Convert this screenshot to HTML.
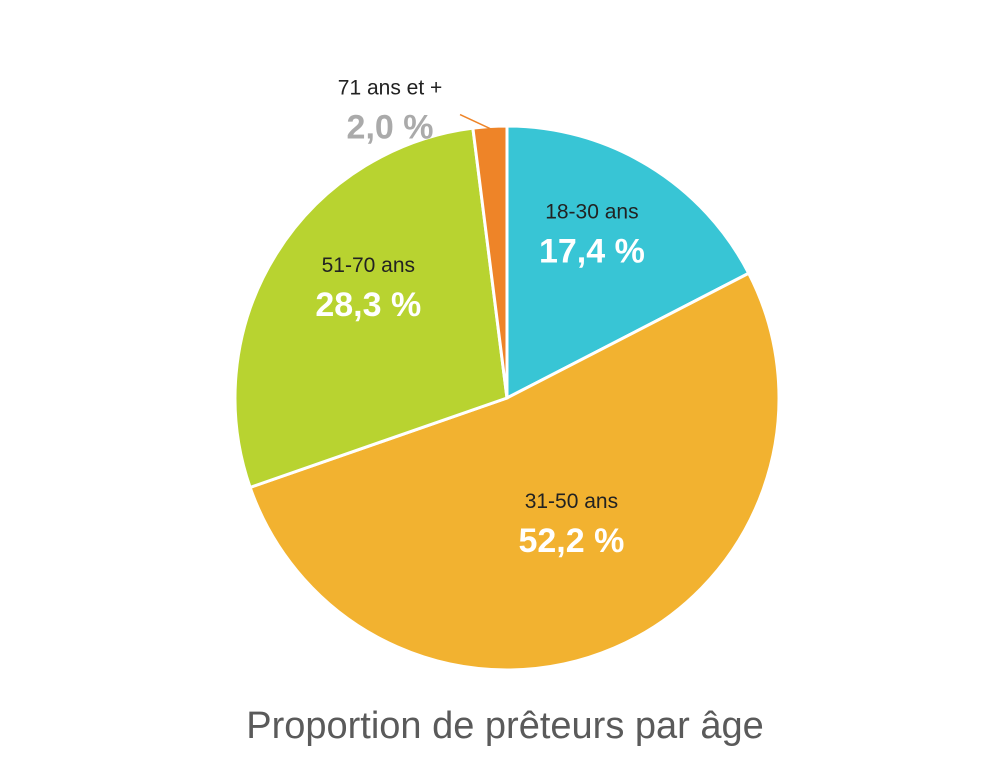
<!DOCTYPE html>
<html>
<head>
<meta charset="utf-8">
<style>
  html,body{margin:0;padding:0;background:#fff;}
  body{width:1008px;height:774px;overflow:hidden;font-family:"Liberation Sans",sans-serif;}
</style>
</head>
<body>
<svg id="chart" width="1008" height="774" viewBox="0 0 1008 774" xmlns="http://www.w3.org/2000/svg">
  <g id="slices"></g>
  <g id="labels"></g>
  <text x="505" y="738" text-anchor="middle" font-size="38" fill="#5a5a5a" font-family="Liberation Sans, sans-serif">Proportion de prêteurs par âge</text>
</svg>
<script>
const categories = ["18-30 ans", "31-50 ans", "51-70 ans", "71 ans et +"];
const values = [17.4, 52.2, 28.3, 2.0];
const valueLabels = ["17,4 %", "52,2 %", "28,3 %", "2,0 %"];
const colors = ["#38C5D5", "#F2B230", "#B8D330", "#EE8428"];

const cx = 507, cy = 398, r = 272;
const NS = "http://www.w3.org/2000/svg";
const total = values.reduce((a,b)=>a+b,0);
function angleOf(v){ return v/total*2*Math.PI; }
function pt(a, rad){ return [cx + rad*Math.sin(a), cy - rad*Math.cos(a)]; }

const gS = document.getElementById("slices");
const gL = document.getElementById("labels");
let start = 0;
values.forEach((v,i)=>{
  const a0 = start, a1 = start + angleOf(v);
  start = a1;
  const p0 = pt(a0, r), p1 = pt(a1, r);
  const large = (a1-a0) > Math.PI ? 1 : 0;
  const path = document.createElementNS(NS, "path");
  path.setAttribute("d", `M${cx},${cy} L${p0[0]},${p0[1]} A${r},${r} 0 ${large} 1 ${p1[0]},${p1[1]} Z`);
  path.setAttribute("fill", colors[i]);
  path.setAttribute("stroke", "#fff");
  path.setAttribute("stroke-width", "3");
  
  
  gS.appendChild(path);

  const mid = (a0+a1)/2;
  let lx, ly, small = v < 5;
  if (small) {
    const e = pt(mid, r - 2);
    const s = [e[0]-30, e[1]-14];
    const line = document.createElementNS(NS, "line");
    line.setAttribute("x1", s[0]); line.setAttribute("y1", s[1]);
    line.setAttribute("x2", e[0]); line.setAttribute("y2", e[1]);
    line.setAttribute("stroke", colors[i]);
    line.setAttribute("stroke-width", "1.5");
    
    
    gL.appendChild(line);
    lx = s[0] - 70; ly = s[1] - 20;
  } else {
    const p = pt(mid, r*0.6);
    lx = p[0]; ly = p[1] - 40;
  }
  const t1 = document.createElementNS(NS, "text");
  t1.setAttribute("x", lx); t1.setAttribute("y", ly);
  t1.setAttribute("text-anchor", "middle");
  t1.setAttribute("font-size", "21");
  t1.setAttribute("fill", "#222");
  t1.textContent = categories[i];
  
  
  gL.appendChild(t1);
  const t2 = document.createElementNS(NS, "text");
  t2.setAttribute("x", lx); t2.setAttribute("y", ly + 44);
  t2.setAttribute("text-anchor", "middle");
  t2.setAttribute("font-size", "34");
  t2.setAttribute("font-weight", "bold");
  t2.setAttribute("fill", small ? "#aaaaaa" : "#ffffff");
  t2.textContent = valueLabels[i];
  
  
  gL.appendChild(t2);
});
</script>
</body>
</html>
